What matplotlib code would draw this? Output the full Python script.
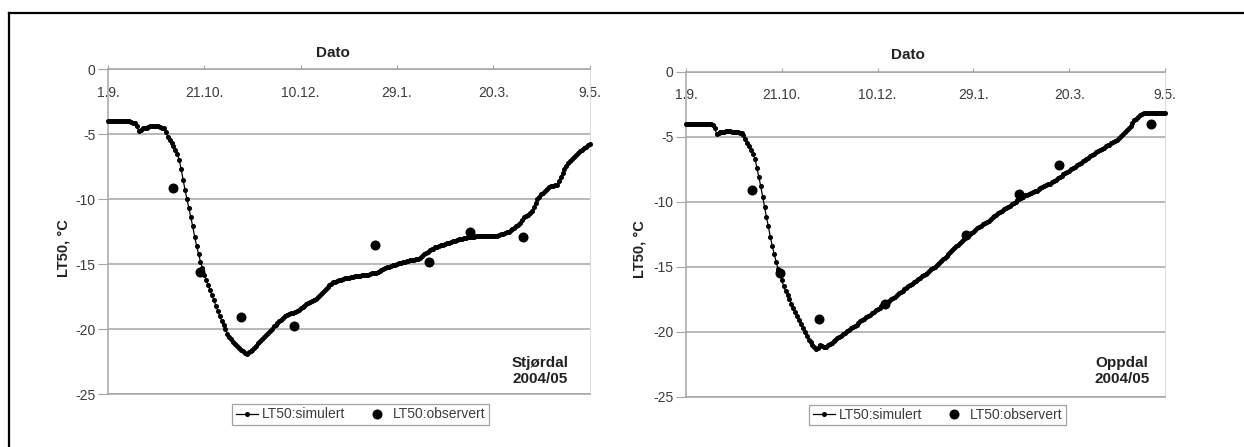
import matplotlib
matplotlib.use("Agg")
import matplotlib.pyplot as plt
from matplotlib.lines import Line2D

plt.rcParams['font.family'] = ['Liberation Sans', 'DejaVu Sans']

# ---------------- data ----------------
tick_days = [0, 50, 100, 150, 200, 250]
tick_labels = ["1.9.", "21.10.", "10.12.", "29.1.", "20.3.", "9.5."]
y_ticks = [0, -5, -10, -15, -20, -25]

# Stjørdal 2004/05, simulated LT50 (one value per day from 1.9.)
stjordal_sim = [
    -4.0, -4.0, -4.0, -4.0, -4.0, -4.0, -4.0, -4.0, -4.0, -4.0,          # 0-9
    -4.0, -4.0, -4.05, -4.1, -4.15, -4.4, -4.75, -4.7, -4.55, -4.5,      # 10-19
    -4.5, -4.45, -4.4, -4.4, -4.35, -4.4, -4.4, -4.45, -4.5, -4.55,      # 20-29
    -4.8, -5.2, -5.45, -5.65, -5.9, -6.2, -6.5, -7.0, -7.7, -8.5,        # 30-39
    -9.3, -10.0, -10.7, -11.4, -12.1, -12.9, -13.6, -14.2, -14.8, -15.3, # 40-49
    -15.8, -16.2, -16.6, -17.0, -17.4, -17.8, -18.2, -18.6, -19.0, -19.35,  # 50-59
    -19.7, -20.0, -20.35, -20.6, -20.8, -21.0, -21.15, -21.3, -21.45, -21.6,  # 60-69
    -21.7, -21.85, -21.95, -21.8, -21.7, -21.6, -21.45, -21.3, -21.1, -20.95,  # 70-79
    -20.8, -20.6, -20.45, -20.3, -20.15, -20.0, -19.8, -19.65, -19.5, -19.4,  # 80-89
    -19.3, -19.15, -19.0, -18.9, -18.85, -18.8, -18.75, -18.7, -18.6, -18.5,  # 90-99
    -18.4, -18.3, -18.2, -18.1, -18.0, -17.9, -17.85, -17.75, -17.65, -17.5,  # 100-109
    -17.35, -17.2, -17.05, -16.9, -16.75, -16.6, -16.5, -16.4, -16.35, -16.3, # 110-119
    -16.25, -16.2, -16.15, -16.1, -16.1, -16.05, -16.0, -16.0, -15.95, -15.95,  # 120-129
    -15.9, -15.9, -15.85, -15.85, -15.8, -15.8, -15.75, -15.7, -15.7, -15.65,   # 130-139
    -15.6, -15.55, -15.45, -15.35, -15.3, -15.25, -15.2, -15.15, -15.1, -15.05, # 140-149
    -15.0, -14.95, -14.9, -14.85, -14.8, -14.75, -14.75, -14.7, -14.7, -14.65,  # 150-159
    -14.6, -14.6, -14.5, -14.35, -14.25, -14.15, -14.05, -13.95, -13.85, -13.8, # 160-169
    -13.7, -13.65, -13.6, -13.55, -13.5, -13.45, -13.4, -13.35, -13.3, -13.25,  # 170-179
    -13.2, -13.15, -13.1, -13.1, -13.05, -13.0, -13.0, -12.95, -12.95, -12.9,   # 180-189
    -12.9, -12.85, -12.85, -12.85, -12.85, -12.85, -12.85, -12.85, -12.85, -12.85,  # 190-199
    -12.8, -12.8, -12.8, -12.75, -12.7, -12.65, -12.6, -12.55, -12.5, -12.4,    # 200-209
    -12.3, -12.2, -12.1, -12.0, -11.8, -11.6, -11.4, -11.3, -11.2, -11.1,       # 210-219
    -10.9, -10.6, -10.3, -10.0, -9.8, -9.6, -9.5, -9.4, -9.25, -9.1,           # 220-229
    -9.0, -8.95, -8.9, -8.9, -8.6, -8.3, -8.0, -7.7, -7.45, -7.25,             # 230-239
    -7.05, -6.9, -6.75, -6.6, -6.45, -6.3, -6.2, -6.05, -5.95, -5.85,          # 240-249
    -5.75,                                                                     # 250
]
stjordal_obs_days = [33.5, 47.7, 68.9, 96.8, 138.8, 166.6, 187.7, 215.6]
stjordal_obs = [-9.15, -15.6, -19.05, -19.75, -13.5, -14.8, -12.5, -12.95]

# Oppdal 2004/05, simulated LT50 (one value per day from 1.9.)
oppdal_sim = [
    -4.0, -4.0, -4.0, -4.0, -4.0, -4.0, -4.0, -4.0, -4.0, -4.0,          # 0-9
    -4.0, -4.0, -4.0, -4.05, -4.1, -4.35, -4.8, -4.75, -4.65, -4.6,      # 10-19
    -4.6, -4.55, -4.55, -4.55, -4.6, -4.6, -4.6, -4.65, -4.7, -4.75,     # 20-29
    -4.9, -5.2, -5.45, -5.75, -6.0, -6.35, -6.7, -7.4, -8.1, -8.8,       # 30-39
    -9.6, -10.4, -11.2, -11.9, -12.7, -13.4, -14.0, -14.6, -15.15, -15.6,  # 40-49
    -16.05, -16.5, -16.9, -17.2, -17.5, -17.85, -18.2, -18.5, -18.8, -19.1,  # 50-59
    -19.4, -19.7, -20.0, -20.3, -20.6, -20.8, -21.0, -21.15, -21.3, -21.25,  # 60-69
    -21.05, -21.1, -21.2, -21.2, -21.05, -20.95, -20.85, -20.7, -20.6, -20.5,  # 70-79
    -20.4, -20.3, -20.2, -20.1, -19.95, -19.85, -19.75, -19.65, -19.55, -19.45,  # 80-89
    -19.3, -19.2, -19.1, -19.0, -18.9, -18.8, -18.7, -18.55, -18.45, -18.35,  # 90-99
    -18.25, -18.15, -18.05, -17.9, -17.8, -17.7, -17.6, -17.5, -17.4, -17.3,  # 100-109
    -17.15, -17.05, -16.95, -16.85, -16.75, -16.6, -16.5, -16.4, -16.3, -16.2, # 110-119
    -16.1, -15.95, -15.85, -15.75, -15.65, -15.55, -15.45, -15.3, -15.2, -15.1, # 120-129
    -15.0, -14.85, -14.7, -14.55, -14.4, -14.3, -14.15, -14.0, -13.85, -13.7,  # 130-139
    -13.55, -13.4, -13.3, -13.15, -13.0, -12.85, -12.7, -12.6, -12.5, -12.4,   # 140-149
    -12.3, -12.2, -12.05, -11.95, -11.85, -11.75, -11.65, -11.55, -11.45, -11.35,  # 150-159
    -11.2, -11.1, -11.0, -10.9, -10.8, -10.7, -10.6, -10.5, -10.4, -10.3,      # 160-169
    -10.2, -10.1, -10.0, -9.9, -9.8, -9.7, -9.6, -9.5, -9.45, -9.4,            # 170-179
    -9.3, -9.25, -9.2, -9.15, -9.05, -8.95, -8.9, -8.8, -8.75, -8.65,          # 180-189
    -8.6, -8.5, -8.4, -8.3, -8.2, -8.1, -8.0, -7.9, -7.8, -7.7,                # 190-199
    -7.6, -7.5, -7.4, -7.3, -7.2, -7.1, -7.0, -6.9, -6.8, -6.7,                # 200-209
    -6.6, -6.5, -6.4, -6.3, -6.2, -6.1, -6.05, -5.95, -5.85, -5.75,            # 210-219
    -5.65, -5.6, -5.5, -5.4, -5.35, -5.25, -5.1, -4.95, -4.8, -4.65,           # 220-229
    -4.5, -4.35, -4.15, -3.95, -3.75, -3.6, -3.45, -3.35, -3.25, -3.2,         # 230-239
    -3.2, -3.2, -3.2, -3.2, -3.2, -3.2, -3.2, -3.2, -3.2, -3.2,                # 240-249
    -3.2,                                                                      # 250
]
oppdal_obs_days = [34.7, 49.0, 69.2, 103.9, 146.3, 174.0, 194.8, 242.8]
oppdal_obs = [-9.1, -15.5, -19.0, -17.9, -12.6, -9.4, -7.2, -4.0]

sim_label = "LT50:simulert"
obs_label = "LT50:observert"
xlabel_text = "Dato"
ylabel_text = "LT50, °C"

# ---------------- figure ----------------
W, H = 1244, 447
fig = plt.figure(figsize=(W / 100, H / 100), dpi=100)
fig.patch.set_facecolor("white")

def px_rect(x0, x1, ytop, ybot):
    return [x0 / W, 1 - ybot / H, (x1 - x0) / W, (ybot - ytop) / H]

GRID = "#a6a6a6"
TXT = "#3c3c3c"

panels = [
    dict(rect=px_rect(108, 589.5, 69.3, 394.0), sim=stjordal_sim,
         od=stjordal_obs_days, ov=stjordal_obs, name="Stjørdal\n2004/05",
         name_xy=(540, 371), dato_xy=(333, 53), ylab_xy=(63, 248),
         leg_xy=(360.5, 414.5)),
    dict(rect=px_rect(686, 1165, 71.7, 396.7), sim=oppdal_sim,
         od=oppdal_obs_days, ov=oppdal_obs, name="Oppdal\n2004/05",
         name_xy=(1122, 371), dato_xy=(908, 55), ylab_xy=(640, 249),
         leg_xy=(937.5, 415)),
]

for p in panels:
    ax = fig.add_axes(p["rect"])
    days = list(range(len(p["sim"])))
    ax.plot(days, p["sim"], color="black", lw=0.9, marker="o", ms=2.6,
            mec="black", mfc="black", clip_on=False, zorder=3, label=sim_label)
    ax.plot(p["od"], p["ov"], ls="none", marker="o", ms=6.2, color="black",
            zorder=4, label=obs_label)

    ax.set_xlim(0, 250)
    ax.set_ylim(-25, 0)
    ax.set_yticks(y_ticks)
    ax.set_yticklabels([str(v) for v in y_ticks])
    ax.set_xticks(tick_days)
    ax.set_xticklabels(tick_labels)
    ax.yaxis.grid(True, color=GRID, lw=1.1)
    ax.set_axisbelow(True)

    ax.xaxis.tick_top()
    ax.tick_params(axis="x", top=True, bottom=False, labeltop=True,
                   labelbottom=False, direction="out", length=3,
                   width=0.8, color=GRID, pad=-25, labelsize=10,
                   labelcolor=TXT)
    ax.tick_params(axis="y", direction="out", length=7, width=0.8,
                   color=GRID, pad=2, labelsize=10, labelcolor=TXT)

    for side in ("left", "top", "bottom"):
        ax.spines[side].set_color(GRID)
        ax.spines[side].set_linewidth(1.1)
    ax.spines["right"].set_color("#dedede")
    ax.spines["right"].set_linewidth(0.8)

    fig.text(p["dato_xy"][0] / W, 1 - p["dato_xy"][1] / H, xlabel_text,
             ha="center", va="center", fontsize=11, fontweight="bold",
             color="#222222")
    fig.text(p["ylab_xy"][0] / W, 1 - p["ylab_xy"][1] / H, ylabel_text,
             ha="center", va="center", rotation=90, fontsize=10.5,
             fontweight="bold", color="#222222")
    fig.text(p["name_xy"][0] / W, 1 - p["name_xy"][1] / H, p["name"],
             ha="center", va="center", multialignment="center",
             fontsize=11, fontweight="bold", color="#222222",
             linespacing=1.15)

    handles, labels = ax.get_legend_handles_labels()
    leg = fig.legend(handles, labels, loc="center",
                     bbox_to_anchor=(p["leg_xy"][0] / W, 1 - p["leg_xy"][1] / H),
                     ncol=2, fontsize=10, frameon=True, fancybox=False,
                     edgecolor="#8c8c8c", handlelength=1.6, handletextpad=0.3,
                     columnspacing=1.5, borderpad=0.25, borderaxespad=0,
                     labelcolor=TXT)
    leg.get_frame().set_linewidth(0.9)

# outer frame (top and left edges)
fig.add_artist(Line2D([9 / W, 1.0], [1 - 13 / H, 1 - 13 / H],
                      transform=fig.transFigure, color="black", lw=1.6))
fig.add_artist(Line2D([9 / W, 9 / W], [0, 1 - 13 / H],
                      transform=fig.transFigure, color="black", lw=1.6))

fig.savefig("out.png", dpi=100)
